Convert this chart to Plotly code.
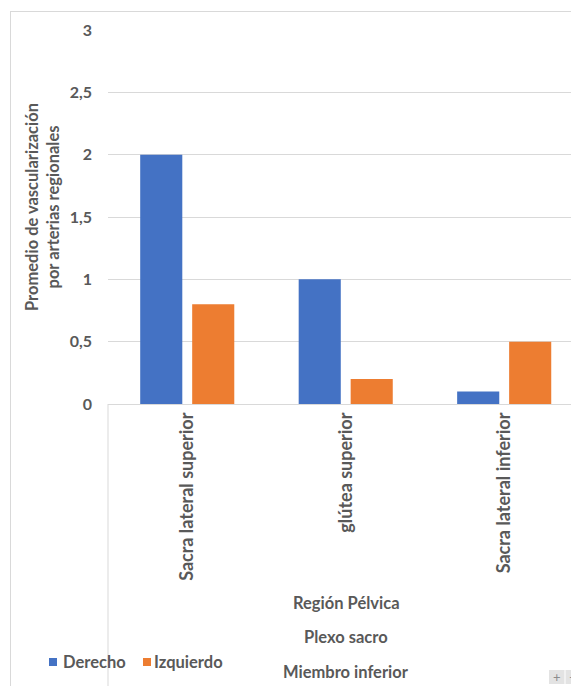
import plotly.graph_objects as go

categories = ["Sacra lateral superior", "glútea superior", "Sacra lateral inferior"]
derecho = [2, 1, 0.1]
izquierdo = [0.8, 0.2, 0.5]
series_names = ["Derecho", "Izquierdo"]
series_colors = ["#4472C4", "#ED7D31"]
level_labels = ["Región Pélvica", "Plexo sacro", "Miembro inferior"]
y_title = "Promedio de vascularización<br>por arterias regionales"
y_ticks = [0, 0.5, 1, 1.5, 2, 2.5, 3]
y_ticktext = ["0", "0,5", "1", "1,5", "2", "2,5", "3"]

# the page body has an 8px margin: work in page pixels and shift
OFF = 8
W, H = 579 - OFF, 686 - OFF
L, T = 108 - OFF, 30 - OFF
PLOT_BOTTOM = 404 - OFF
B = H - PLOT_BOTTOM
R = 0
PW, PH = W - L - R, H - T - B
FONT = "Lato"
GREY = "#595959"

def px_x(px):  # page pixel -> paper
    return (px - OFF - L) / PW

def px_y(py):
    return (PLOT_BOTTOM - (py - OFF)) / PH

fig = go.Figure()
fig.add_trace(go.Bar(x=categories, y=derecho, name=series_names[0],
                     marker=dict(color=series_colors[0], line=dict(width=0))))
fig.add_trace(go.Bar(x=categories, y=izquierdo, name=series_names[1],
                     marker=dict(color=series_colors[1], line=dict(width=0))))

bold = "bold"
annotations = []
for lbl, py in zip(level_labels, [603, 637, 672]):
    annotations.append(dict(text=lbl, x=px_x(346), y=px_y(py), xref="paper", yref="paper",
                            showarrow=False, xanchor="center", yanchor="middle",
                            font=dict(family=FONT, size=16.5, color=GREY, weight=bold)))
annotations.append(dict(text=y_title, x=px_x(42), y=px_y(207), xref="paper", yref="paper",
                        showarrow=False, textangle=-90, xanchor="center", yanchor="middle",
                        font=dict(family=FONT, size=16.5, color=GREY, weight=bold)))
# manual legend text
for name, tx in zip(series_names, [61, 152]):
    annotations.append(dict(text=name, x=px_x(tx), y=px_y(662), xref="paper", yref="paper",
                            showarrow=False, xanchor="left", yanchor="middle",
                            font=dict(family=FONT, size=16.5, color=GREY, weight=bold)))
# zoom buttons
annotations.append(dict(text="+", x=px_x(556.5), y=px_y(677), xref="paper", yref="paper",
                        showarrow=False, xanchor="center", yanchor="middle",
                        font=dict(family=FONT, size=13, color="#8C8C8C")))
annotations.append(dict(text="−", x=px_x(572.5), y=px_y(677), xref="paper", yref="paper",
                        showarrow=False, xanchor="center", yanchor="middle",
                        font=dict(family=FONT, size=13, color="#8C8C8C")))

shapes = [
    dict(type="line", xref="paper", yref="paper", x0=px_x(10.5), x1=px_x(10.5), y0=px_y(11), y1=px_y(686),
         line=dict(color="#D9D9D9", width=1)),
    dict(type="line", xref="paper", yref="paper", x0=px_x(10.5), x1=px_x(579), y0=px_y(11.5), y1=px_y(11.5),
         line=dict(color="#D9D9D9", width=1)),
    dict(type="line", xref="paper", yref="paper", x0=0, x1=0, y0=0, y1=px_y(686),
         line=dict(color="#D9D9D9", width=1)),
    dict(type="rect", xref="paper", yref="paper", x0=px_x(549), x1=px_x(564.5), y0=px_y(684), y1=px_y(670),
         fillcolor="#E3E3E3", line=dict(width=0), layer="below"),
    dict(type="rect", xref="paper", yref="paper", x0=px_x(565.5), x1=px_x(580), y0=px_y(684), y1=px_y(670),
         fillcolor="#E3E3E3", line=dict(width=0), layer="below"),
]
for color, sx in zip(series_colors, [49, 143]):
    shapes.append(dict(type="rect", xref="paper", yref="paper", x0=px_x(sx), x1=px_x(sx + 8),
                       y0=px_y(666), y1=px_y(658), fillcolor=color, line=dict(width=0)))

fig.update_layout(
    width=W, height=H,
    margin=dict(l=L, r=R, t=T, b=B, pad=0),
    paper_bgcolor="white", plot_bgcolor="white",
    barmode="group", bargap=0.344, bargroupgap=0.19,
    font=dict(family=FONT, size=16, color=GREY),
    separators=", ",
    showlegend=False,
    annotations=annotations,
    shapes=shapes,
    xaxis=dict(type="category", range=[-0.5, 2.472], tickangle=-90, showgrid=False,
               showline=False, ticks="", ticklabelstandoff=4,
               tickfont=dict(family=FONT, size=18, color=GREY, weight=bold), fixedrange=True),
    yaxis=dict(range=[0, 3], tickvals=y_ticks, ticktext=y_ticktext, showgrid=True,
               gridcolor="#D9D9D9", gridwidth=1, zeroline=True, zerolinecolor="#D9D9D9",
               zerolinewidth=1, showline=False, ticks="", ticklabelstandoff=15,
               tickfont=dict(family=FONT, size=16, color=GREY, weight=bold), fixedrange=True),
)

fig.write_html("out.html")
